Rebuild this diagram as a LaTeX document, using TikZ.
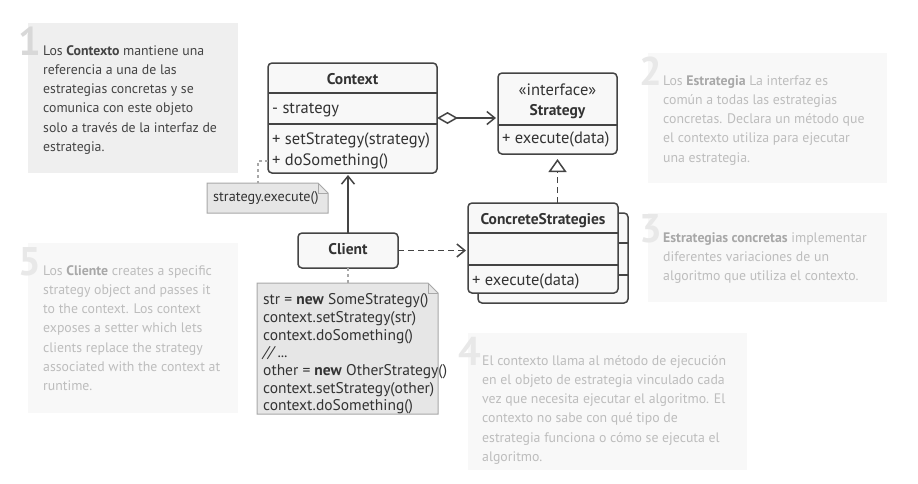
\documentclass[tikz,border=0pt]{standalone}
\usepackage{fontspec}
\setmainfont{PT Sans}
\usetikzlibrary{arrows.meta}
\definecolor{umlline}{HTML}{444444}
\definecolor{umlfill}{HTML}{F8F8F8}
\definecolor{umltext}{HTML}{333333}
\definecolor{notefill}{HTML}{E6E6E6}
\definecolor{noteline}{HTML}{A8A8A8}
\definecolor{descfill}{HTML}{EFEFEF}
\definecolor{descnum}{HTML}{D8D8D8}
\definecolor{desctext}{HTML}{444444}
\definecolor{fadefill}{HTML}{F8F8F8}
\definecolor{fadenum}{HTML}{E8E8E8}
\definecolor{fadetext}{HTML}{BDBDBD}
\definecolor{fadebold}{HTML}{A8A8A8}

\newcommand\foldnote[1]{%
  \filldraw[fill=notefill, draw=noteline, line width=1pt] (#1.south west) -- (#1.north west) -- ([xshift=-10pt]#1.north east) -- ([yshift=-10pt]#1.north east) -- (#1.south east) -- cycle;
  \draw[noteline, line width=1pt] ([xshift=-10pt]#1.north east) |- ([yshift=-10pt]#1.north east);
}

\begin{document}
\begin{tikzpicture}[
            x=1pt, y=-1pt,
            uml/.style={draw=umlline, fill=umlfill, line width=1.5pt, rounded corners=4pt, inner sep=0pt, outer sep=0pt},
            divider/.style={draw=umlline, line width=1.5pt},
            umlname/.style={font=\fontsize{15.5}{17}\selectfont\bfseries, text=umltext, inner sep=0pt, text height=11.5pt, text depth=3.3pt},
            umlplain/.style={font=\fontsize{16.5}{18}\selectfont, text=umltext, inner sep=0pt, text height=12pt, text depth=3.5pt},
            member/.style={umlplain, anchor=west},
            notebox/.style={inner sep=0pt, outer sep=0pt},
            notetext/.style={text=umltext, inner sep=0pt, align=left},
            descbox/.style={anchor=north west, inner sep=0pt, outer sep=0pt},
            desctext/.style={anchor=north west, inner sep=0pt, align=left, font=\fontsize{13.8}{19.2}\selectfont},
            descnumber/.style={anchor=base east, inner sep=0pt, font=\fontsize{40}{40}\selectfont\bfseries},
            assoc/.style={draw=umlline, line width=1.5pt, -{Straight Barb[length=8pt,width=13pt]}, shorten >=2pt},
            depend/.style={assoc, dash pattern=on 6pt off 4pt},
            realize/.style={draw=umlline, line width=1.5pt, dash pattern=on 6pt off 4pt, -{Triangle[open,length=13pt,width=18pt]}, shorten >=5pt},
            aggregate/.style={assoc, {Diamond[open,length=21pt,width=12pt]}-{Straight Barb[length=8pt,width=13pt]}},
            noteconn/.style={draw=noteline, line width=1.2pt, dash pattern=on 3pt off 3pt}
        ]
        \useasboundingbox[fill=white] (0,0) rectangle (918,483);

        \node[descbox, fill=descfill, minimum width=210, minimum height=150] (d1) at (28,23) {};
        \node[descnumber, text=descnum] (n1) at (41,55) {1};
        \node[desctext, text=desctext] (t1) at (43,44) {\rule{0pt}{11pt}Los \textbf{Contexto} mantiene una\\referencia a una de las\\estrategias concretas y se\\comunica con este objeto\\solo a través de la interfaz de\\estrategia.};

        \node[descbox, fill=fadefill, minimum width=239, minimum height=130] (d2) at (648,53) {};
        \node[descnumber, text=fadenum] (n2) at (662,85) {2};
        \node[desctext, text=fadetext] (t2) at (663,74) {\rule{0pt}{11pt}Los {\color{fadebold}\textbf{Estrategia}} La interfaz es\\común a todas las estrategias\\concretas. Declara un método que\\el contexto utiliza para ejecutar\\una estrategia.};

        \node[descbox, fill=fadefill, minimum width=239, minimum height=89] (d3) at (648,213) {};
        \node[descnumber, text=fadenum] (n3) at (662,242) {3};
        \node[desctext, text=fadetext] (t3) at (663,231) {\rule{0pt}{11pt}{\color{fadebold}\textbf{Estrategias concretas}} implementar\\diferentes variaciones de un\\algoritmo que utiliza el contexto.};

        \node[descbox, fill=fadefill, minimum width=279, minimum height=137] (d4) at (468,333) {};
        \node[descnumber, text=fadenum] (n4) at (481,365) {4};
        \node[desctext, text=fadetext] (t4) at (482,354) {\rule{0pt}{11pt}El contexto llama al método de ejecución\\en el objeto de estrategia vinculado cada\\vez que necesita ejecutar el algoritmo. El\\contexto no sabe con qué tipo de\\estrategia funciona o cómo se ejecuta el\\algoritmo.};

        \node[descbox, fill=fadefill, minimum width=210, minimum height=170] (d5) at (28,243) {};
        \node[descnumber, text=fadenum] (n5) at (41,275) {5};
        \node[desctext, text=fadetext] (t5) at (43,264) {\rule{0pt}{11pt}Los {\color{fadebold}\textbf{Cliente}} creates a specific\\strategy object and passes it\\to the context. Los context\\exposes a setter which lets\\clients replace the strategy\\associated with the context at\\runtime.};

        \node[uml, minimum width=169, minimum height=110] (ctx) at (352.5,118) {};
        \draw[divider] (ctx.west |- 0,93) -- (ctx.east |- 0,93);
        \draw[divider] (ctx.west |- 0,124) -- (ctx.east |- 0,124);
        \node[umlname] (ctxname) at (352.5,80) {Context};
        \node[member] (ctxattr) at (272,109) {- strategy};
        \node[member] (ctxset) at (272,140) {+ setStrategy(strategy)};
        \node[member] (ctxdo) at (272,161) {+ doSomething()};

        \node[uml, minimum width=119, minimum height=81] (str) at (557.5,113.5) {};
        \draw[divider] (str.west |- 0,125) -- (str.east |- 0,125);
        \node[umlplain] (strstereo) at (557.5,91) {«interface»};
        \node[umlname] (strname) at (557.5,111) {Strategy};
        \node[member] (strexec) at (502,139) {+ execute(data)};

        \node[uml, minimum width=150, minimum height=90] (csback) at (553,258) {};
        \draw[divider] (csback.west |- 0,243) -- (csback.east |- 0,243);
        \draw[divider] (csback.west |- 0,275) -- (csback.east |- 0,275);
        \node[uml, minimum width=150, minimum height=90] (cs) at (543,248) {};
        \draw[divider] (cs.west |- 0,233) -- (cs.east |- 0,233);
        \draw[divider] (cs.west |- 0,265) -- (cs.east |- 0,265);
        \node[umlname] (csname) at (543,220) {ConcreteStrategies};
        \node[member] (csexec) at (472,281) {+ execute(data)};

        \node[uml, minimum width=100, minimum height=35] (client) at (348,250.5) {};
        \node[umlname] (clientname) at (client) {Client};

        \node[notebox, minimum width=121, minimum height=30] (exec) at (267.5,198) {};
        \foldnote{exec}
        \node[notetext, anchor=west, font=\fontsize{14.2}{16}\selectfont, text height=10.5pt, text depth=3.2pt] (exectxt) at ([xshift=6pt]exec.west) {strategy.execute()};

        \node[notebox, anchor=north west, minimum width=181, minimum height=131] (code) at (257,283) {};
        \foldnote{code}
        \node[notetext, anchor=north west, font=\fontsize{15.5}{17.7}\selectfont] (codetxt) at (263,292.5) {\rule{0pt}{12pt}str = \textbf{new} SomeStrategy()\\context.setStrategy(str)\\context.doSomething()\\\textit{// ...}\\other = \textbf{new} OtherStrategy()\\context.setStrategy(other)\\context.doSomething()};

        \draw[aggregate] (ctx.east) -- (ctx.east -| str.west);
        \draw[realize] (cs.north -| str.south) -- (str.south);
        \draw[assoc] (client.north) -- (client.north |- ctx.south);
        \draw[depend] (client.east) -- (client.east -| cs.west);
        \draw[noteconn] (client.south) -- (client.south |- code.north);
        \draw[noteconn] (ctx.west |- ctxdo) -| ([xshift=-9.5pt]exec.north);
    \end{tikzpicture}
\end{document}
